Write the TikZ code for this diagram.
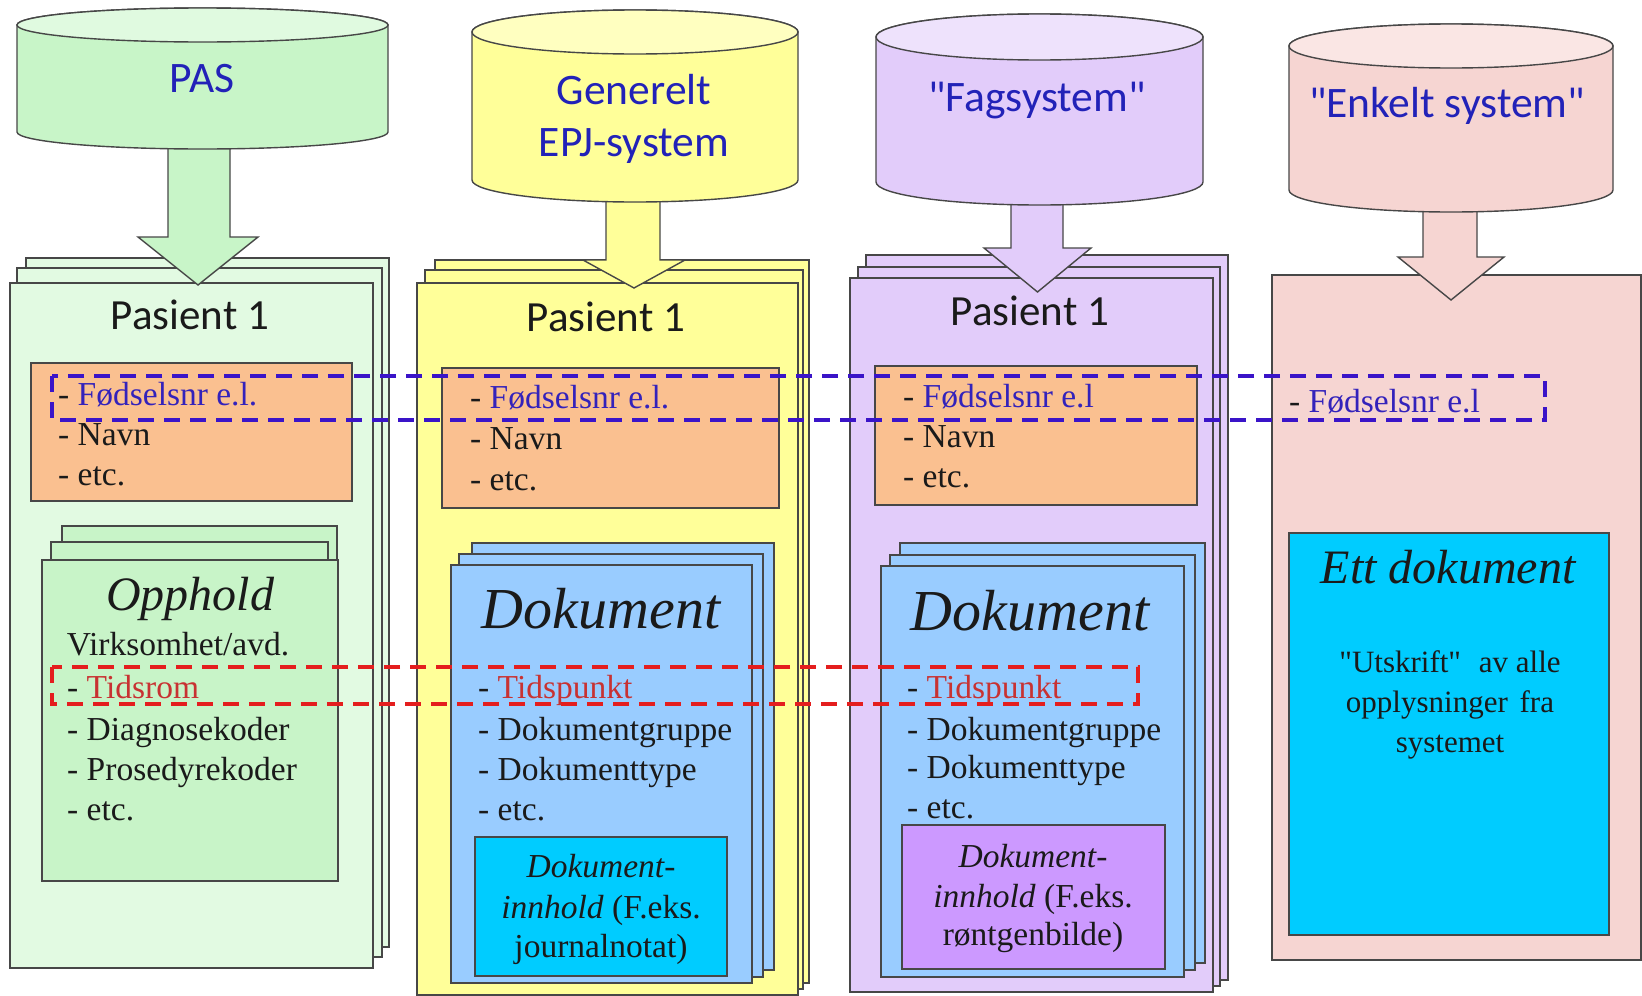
\documentclass[tikz,border=0pt]{standalone}
\usepackage{fontspec}
\setmainfont{Liberation Serif}
\newfontfamily\calib{Carlito}
\usetikzlibrary{fit}
\definecolor{gpage}{HTML}{E2FAE2}
\definecolor{gbox}{HTML}{C8F4C8}
\definecolor{gcyl}{HTML}{C8F5C8}
\definecolor{gcyltop}{HTML}{E0FAE0}
\definecolor{ypage}{HTML}{FFFF99}
\definecolor{ycyltop}{HTML}{FFFFC0}
\definecolor{ppage}{HTML}{E2CCFA}
\definecolor{pcyltop}{HTML}{EEE2FC}
\definecolor{kpage}{HTML}{F6D5D2}
\definecolor{kcyltop}{HTML}{FAE6E4}
\definecolor{bdoc}{HTML}{99CCFF}
\definecolor{cyanb}{HTML}{00CCFF}
\definecolor{pbox}{HTML}{CC99FF}
\definecolor{obox}{HTML}{FAC090}
\definecolor{ttl}{HTML}{2222B8}
\definecolor{fblue}{HTML}{3322BB}
\definecolor{tred}{HTML}{C83232}
\definecolor{dblue}{HTML}{3A14C8}
\definecolor{dred}{HTML}{E41E1E}
\definecolor{txt}{HTML}{1A1A1A}
\tikzset{
  ln/.style={draw=black!72, line width=1.4pt},
  bx/.style={ln, inner sep=0pt, outer sep=0pt},
  itm/.style={anchor=base west, inner sep=0pt, font=\fontsize{33.5}{40}\selectfont, text=txt},
  ctr/.style={anchor=base, inner sep=0pt, font=\fontsize{33.5}{40}\selectfont, text=txt},
  bigit/.style={anchor=base, inner sep=0pt, font=\fontsize{58}{64}\selectfont\itshape, text=txt},
  pas/.style={anchor=base, inner sep=0pt, font=\calib\fontsize{43}{49}\selectfont, text=txt},
  cyltxt/.style={anchor=base, inner sep=0pt, font=\calib\fontsize{43.5}{50}\selectfont, text=ttl},
  dashbox/.style={line width=3.6pt, dash pattern=on 16pt off 10pt},
}
\newcommand{\cyl}[7]{%
  \pgfmathsetmacro{\cylrx}{(#2-#1)/2}%
  \pgfmathsetmacro{\cylcx}{(#2+#1)/2}%
  \filldraw[ln, fill=#6] (#1,-#3) -- (#1,-#4) arc[start angle=180, end angle=360, x radius=\cylrx pt, y radius=#5pt] -- (#2,-#3) arc[start angle=0, end angle=180, x radius=\cylrx pt, y radius=#5pt] -- cycle;
  \filldraw[ln, fill=#7] (\cylcx,-#3) ellipse[x radius=\cylrx pt, y radius=#5pt];
}
% block arrow: shaft x1 x2, shaft top, head top, head x1 x2, tip y, fill
\newcommand{\barrow}[8]{%
  \pgfmathsetmacro{\barcx}{(#5+#6)/2}%
  \filldraw[ln, fill=#8] (#1,-#3) -- (#1,-#4) -- (#5,-#4) -- (\barcx,-#7) -- (#6,-#4) -- (#2,-#4) -- (#2,-#3);
}
\begin{document}
\begin{tikzpicture}[x=1pt,y=1pt]
\useasboundingbox[fill=white] (0,0) rectangle (1642,-996);

% ===== Column 1: PAS =====
\node[bx, fill=gpage, fit={(26,-258)(389,-947)}] (c1p3) {};
\node[bx, fill=gpage, fit={(17,-268)(382,-957)}] (c1p2) {};
\node[bx, fill=gpage, fit={(10,-283)(373,-968)}] (c1p1) {};
\node[pas] (c1pas) at (190,-329) {Pasient 1};
\node[bx, fill=obox, fit={(31,-363)(352,-501)}] (c1o) {};
\node[itm] (c1f) at (58,-405) {- \textcolor{fblue}{Fødselsnr e.l.}};
\node[itm] (c1n) at (58,-445) {- Navn};
\node[itm] (c1e) at (58,-485) {- etc.};
\node[bx, fill=gbox, fit={(62,-526)(337,-870)}] (c1d3) {};
\node[bx, fill=gbox, fit={(51,-542)(328,-875)}] (c1d2) {};
\node[bx, fill=gbox, fit={(42,-560)(338,-881)}] (c1d1) {};
\node[bigit, font=\fontsize{48}{54}\selectfont\itshape] (c1op) at (190,-610) {Opphold};
\node[ctr] (c1v) at (178,-655) {Virksomhet/avd.};
\node[itm] (c1t) at (67,-698) {- \textcolor{tred}{Tidsrom}};
\node[itm] (c1dk) at (67,-740) {- Diagnosekoder};
\node[itm] (c1pk) at (67,-780) {- Prosedyrekoder};
\node[itm] (c1ec) at (67,-820) {- etc.};

% ===== Column 2: Generelt EPJ =====
\node[bx, fill=ypage, fit={(435,-260)(809,-983)}] (c2p3) {};
\node[bx, fill=ypage, fit={(425,-270)(803,-989)}] (c2p2) {};
\node[bx, fill=ypage, fit={(417,-283)(798,-995)}] (c2p1) {};
\node[pas] (c2pas) at (606,-331) {Pasient 1};
\node[bx, fill=obox, fit={(442,-368)(779,-508)}] (c2o) {};
\node[itm] (c2f) at (470,-408) {- \textcolor{fblue}{Fødselsnr e.l.}};
\node[itm] (c2n) at (470,-449) {- Navn};
\node[itm] (c2e) at (470,-490) {- etc.};
\node[bx, fill=bdoc, fit={(472,-543)(774,-970)}] (c2d3) {};
\node[bx, fill=bdoc, fit={(459,-554)(763,-977)}] (c2d2) {};
\node[bx, fill=bdoc, fit={(451,-565)(752,-983)}] (c2d1) {};
\node[bigit] (c2dok) at (601,-628) {Dokument};
\node[itm] (c2t) at (478,-698) {- \textcolor{tred}{Tidspunkt}};
\node[itm] (c2g) at (478,-740) {- Dokumentgruppe};
\node[itm] (c2ty) at (478,-780) {- Dokumenttype};
\node[itm] (c2ec) at (478,-820) {- etc.};
\node[bx, fill=cyanb, fit={(475,-837)(727,-976)}] (c2c) {};
\node[ctr] (c2c1) at (601,-877) {\itshape Dokument-};
\node[ctr] (c2c2) at (601,-918) {\textit{innhold} (F.eks.};
\node[ctr] (c2c3) at (601,-957) {journalnotat)};

% ===== Column 3: Fagsystem =====
\node[bx, fill=ppage, fit={(866,-255)(1228,-980)}] (c3p3) {};
\node[bx, fill=ppage, fit={(858,-267)(1220,-986)}] (c3p2) {};
\node[bx, fill=ppage, fit={(850,-278)(1213,-992)}] (c3p1) {};
\node[pas] (c3pas) at (1030,-325) {Pasient 1};
\node[bx, fill=obox, fit={(875,-366)(1197,-505)}] (c3o) {};
\node[itm] (c3f) at (903,-407) {- \textcolor{fblue}{Fødselsnr e.l}};
\node[itm] (c3n) at (903,-447) {- Navn};
\node[itm] (c3e) at (903,-487) {- etc.};
\node[bx, fill=bdoc, fit={(900,-543)(1205,-963)}] (c3d3) {};
\node[bx, fill=bdoc, fit={(890,-555)(1195,-970)}] (c3d2) {};
\node[bx, fill=bdoc, fit={(881,-566)(1184,-977)}] (c3d1) {};
\node[bigit] (c3dok) at (1030,-630) {Dokument};
\node[itm] (c3t) at (907,-698) {- \textcolor{tred}{Tidspunkt}};
\node[itm] (c3g) at (907,-740) {- Dokumentgruppe};
\node[itm] (c3ty) at (907,-778) {- Dokumenttype};
\node[itm] (c3ec) at (907,-818) {- etc.};
\node[bx, fill=pbox, fit={(902,-825)(1165,-969)}] (c3c) {};
\node[ctr] (c3c1) at (1033,-867) {\itshape Dokument-};
\node[ctr] (c3c2) at (1033,-907) {\textit{innhold} (F.eks.};
\node[ctr] (c3c3) at (1033,-945) {røntgenbilde)};

% ===== Column 4: Enkelt system =====
\node[bx, fill=kpage, fit={(1272,-275)(1641,-960)}] (c4p) {};
\node[itm] (c4f) at (1289,-412) {- \textcolor{fblue}{Fødselsnr e.l}};
\node[bx, fill=cyanb, fit={(1289,-533)(1609,-935)}] (c4c) {};
\node[bigit, font=\fontsize{48}{54}\selectfont\itshape] (c4ett) at (1448,-583) {Ett dokument};
\node[ctr, font=\fontsize{31}{38}\selectfont] (c4u1) at (1450,-672) {\textquotedbl Utskrift\textquotedbl\hspace{10pt} av alle};
\node[ctr, font=\fontsize{31}{38}\selectfont] (c4u2) at (1450,-712) {opplysninger\hspace{4pt} fra};
\node[ctr, font=\fontsize{31}{38}\selectfont] (c4u3) at (1450,-752) {systemet};

% ===== Arrows and cylinders =====
\barrow{168}{230}{132}{237}{138}{258}{285}{gcyl}
\cyl{17}{388}{25}{132}{17}{gcyl}{gcyltop}
\node[cyltxt] (t1) at (202,-92) {PAS};

\barrow{606}{660}{180}{260}{583}{685}{288}{ypage}
\cyl{472}{798}{32}{180}{22}{ypage}{ycyltop}
\node[cyltxt] (t2a) at (634,-104) {Generelt};
\node[cyltxt] (t2b) at (634,-156) {EPJ-system};

\barrow{1011}{1063}{182}{248}{984}{1091}{292}{ppage}
\cyl{876}{1203}{37}{182}{23}{ppage}{pcyltop}
\node[cyltxt] (t3) at (1037,-111) {"Fagsystem"};

\barrow{1423}{1477}{190}{257}{1398}{1504}{300}{kpage}
\cyl{1289}{1613}{46}{190}{22}{kpage}{kcyltop}
\node[cyltxt] (t4) at (1447,-117) {"Enkelt system"};

% ===== Dashed highlight boxes =====
\draw[dashbox, draw=dblue] (52,-376) rectangle (1545,-420);
\draw[dashbox, draw=dred] (52,-667) rectangle (1138,-704);
\end{tikzpicture}
\end{document}
